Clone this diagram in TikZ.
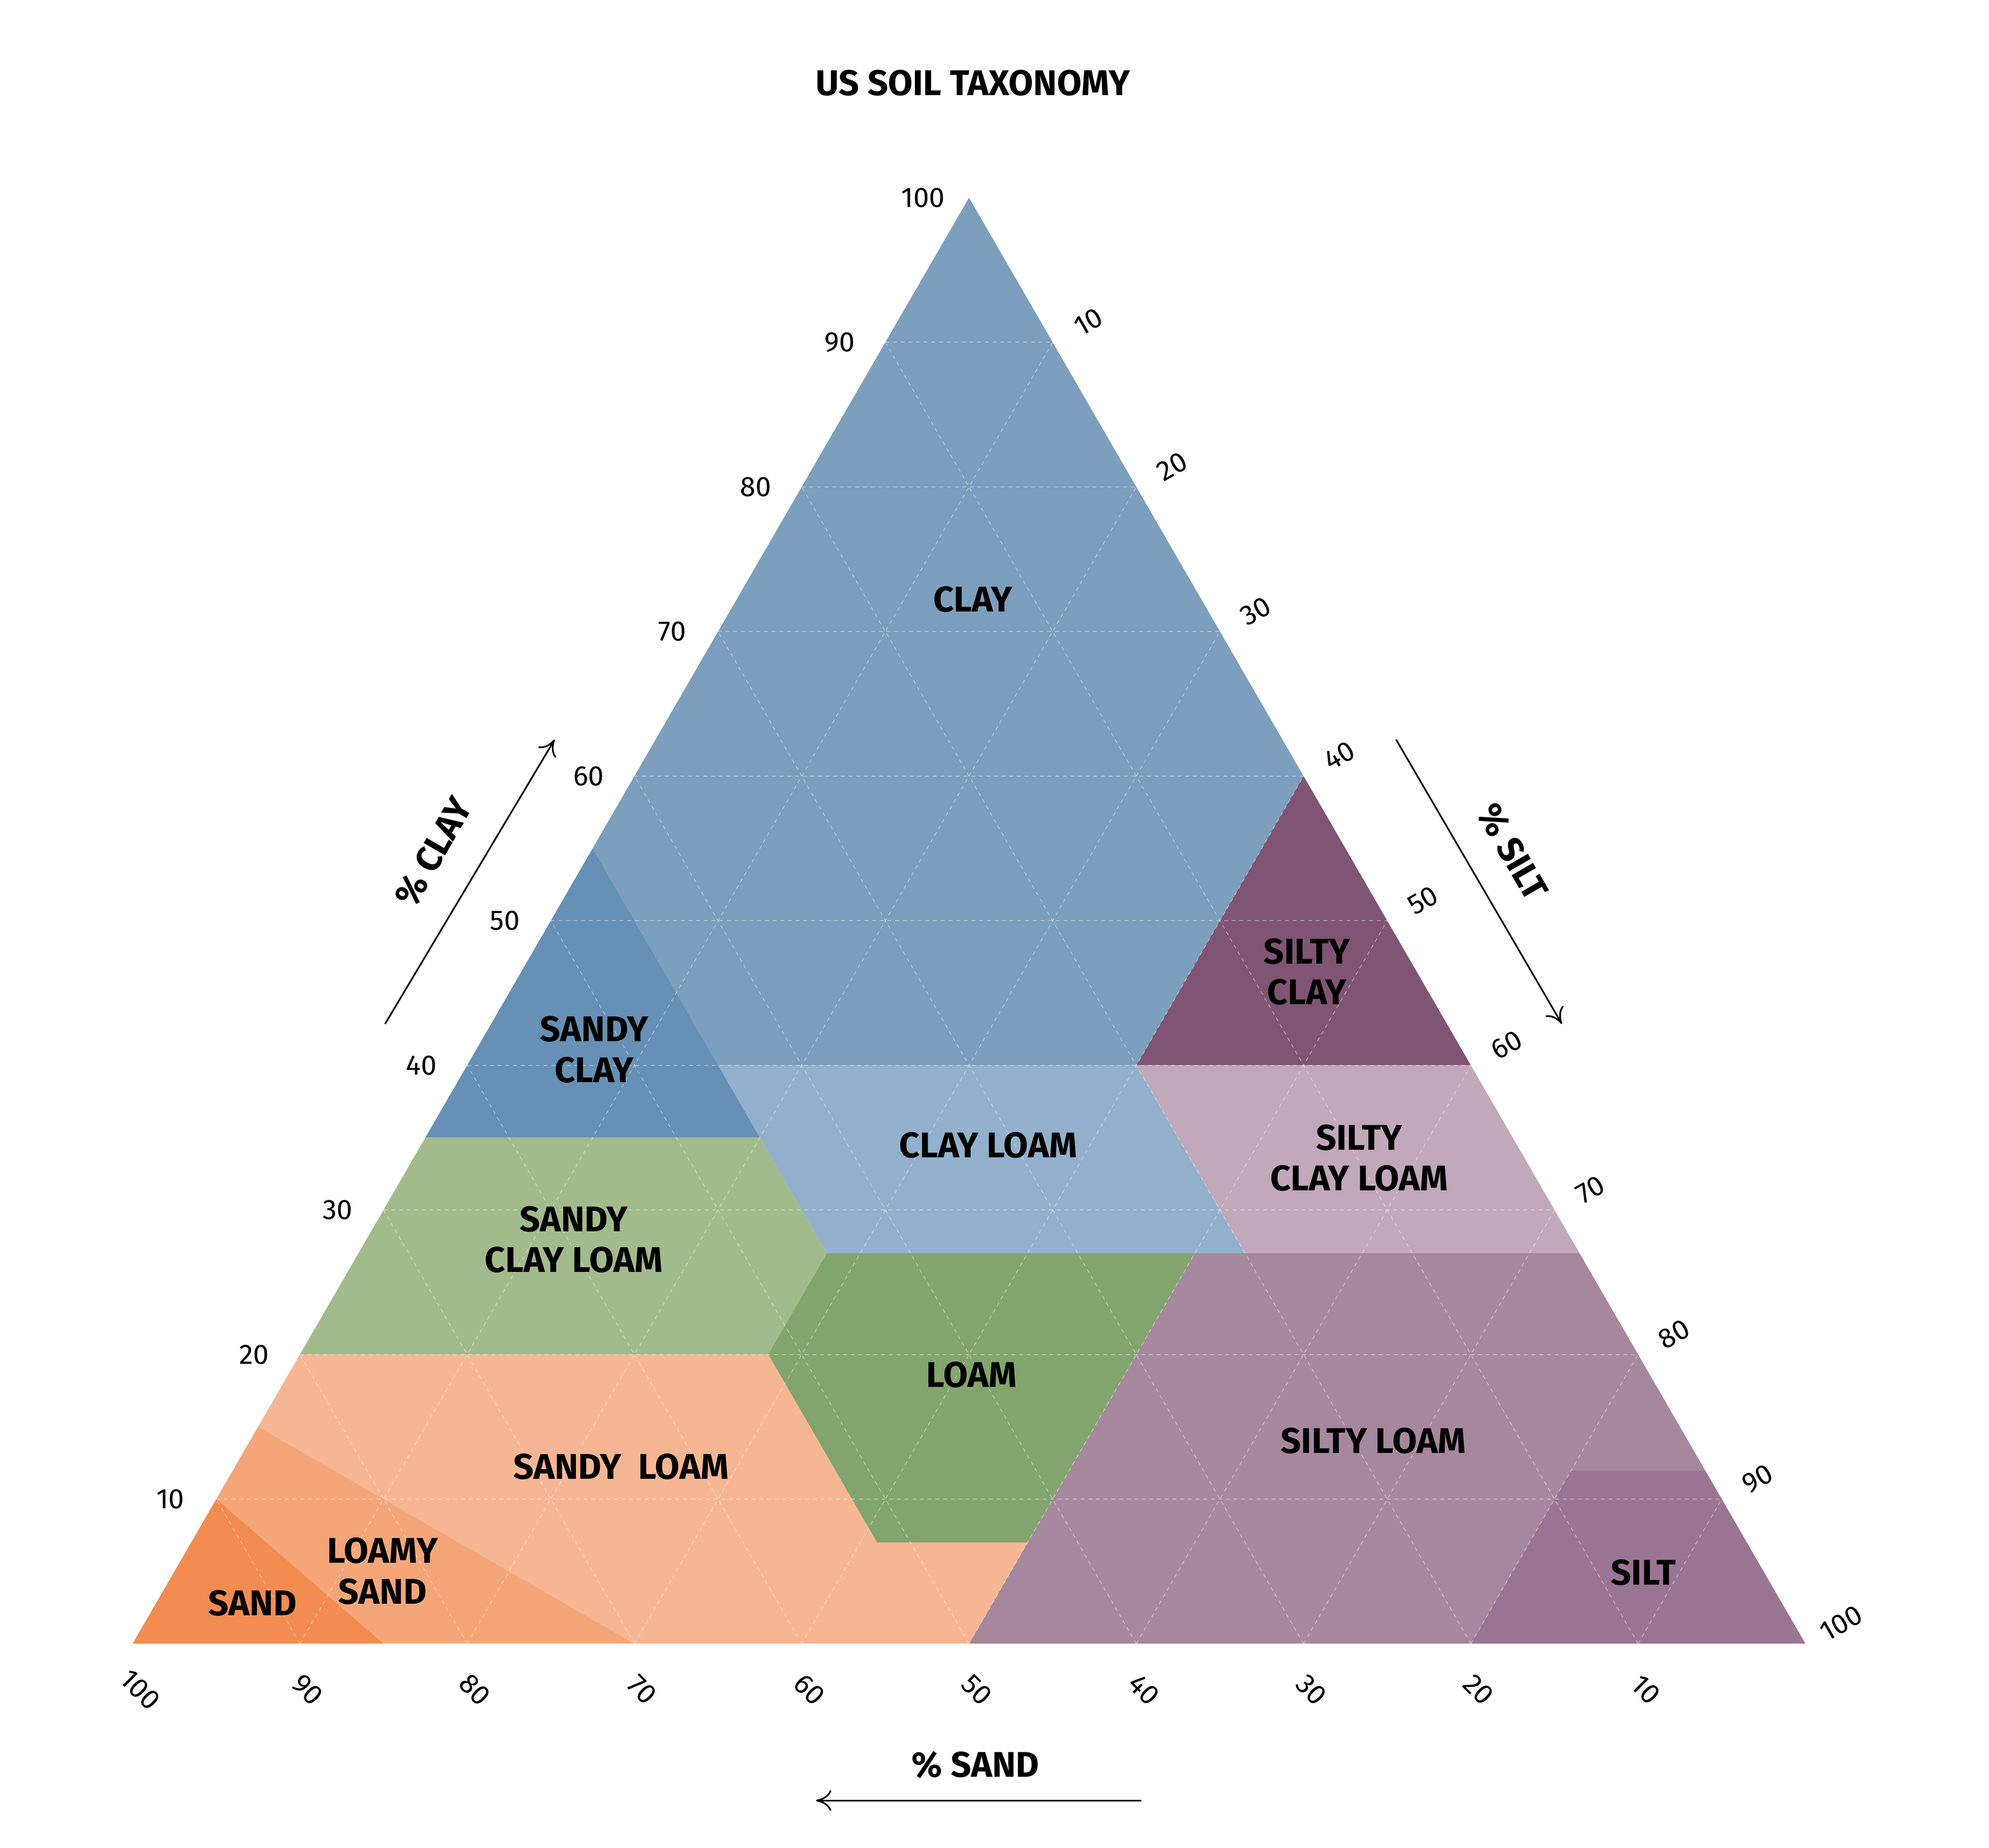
\documentclass[tikz,border=0pt]{standalone}
\usepackage{fontspec}
\setmainfont{Fira Sans}
\usetikzlibrary{arrows.meta}
\tikzset{tern/.cd, c/.store in=\tc, s/.store in=\ts}
\tikzdeclarecoordinatesystem{tern}{\tikzset{tern/.cd,#1}\pgfpointxy{104+(\ts+\tc/2)*13.12}{1289-\tc*11.34}}
\definecolor{cClay}{HTML}{7B9FBD}
\definecolor{cSClay}{HTML}{6690B5}
\definecolor{cCLoam}{HTML}{93B1CC}
\definecolor{cSiClay}{HTML}{7F5573}
\definecolor{cSiCLoam}{HTML}{C1A8BB}
\definecolor{cSCLoam}{HTML}{A2BB8C}
\definecolor{cLoam}{HTML}{82A56D}
\definecolor{cSiLoam}{HTML}{A6889E}
\definecolor{cSilt}{HTML}{9A7592}
\definecolor{cSLoam}{HTML}{F7B693}
\definecolor{cLSand}{HTML}{F4A678}
\definecolor{cSand}{HTML}{F28C50}
\tikzset{lbl/.style={font=\fontsize{28}{32}\selectfont\bfseries,align=center},
 tick/.style={font=\fontsize{22}{26}\selectfont},
 grid/.style={white,opacity=0.45,dashed,line width=0.6pt},
 ax/.style={-{To[length=12pt,width=16pt]},line width=1.3pt}}
\begin{document}
\begin{tikzpicture}[x=1pt,y=-1pt]
\useasboundingbox (0,0) rectangle (1560,1449);
\fill[cClay] (tern cs:c=100,s=0)--(tern cs:c=60,s=40)--(tern cs:c=40,s=40)--(tern cs:c=40,s=15)--(tern cs:c=55,s=0)--cycle;
\fill[cSClay] (tern cs:c=55,s=0)--(tern cs:c=40,s=15)--(tern cs:c=35,s=20)--(tern cs:c=35,s=0)--cycle;
\fill[cSiClay] (tern cs:c=60,s=40)--(tern cs:c=40,s=60)--(tern cs:c=40,s=40)--cycle;
\fill[cCLoam] (tern cs:c=40,s=15)--(tern cs:c=40,s=40)--(tern cs:c=27,s=53)--(tern cs:c=27,s=28)--cycle;
\fill[cSiCLoam] (tern cs:c=40,s=40)--(tern cs:c=40,s=60)--(tern cs:c=27,s=73)--(tern cs:c=27,s=53)--cycle;
\fill[cSCLoam] (tern cs:c=35,s=0)--(tern cs:c=35,s=20)--(tern cs:c=27,s=28)--(tern cs:c=20,s=28)--(tern cs:c=20,s=0)--cycle;
\fill[cLoam] (tern cs:c=27,s=28)--(tern cs:c=27,s=50)--(tern cs:c=7,s=50)--(tern cs:c=7,s=41)--(tern cs:c=20,s=28)--cycle;
\fill[cSiLoam] (tern cs:c=27,s=50)--(tern cs:c=27,s=73)--(tern cs:c=12,s=88)--(tern cs:c=12,s=80)--(tern cs:c=0,s=80)--(tern cs:c=0,s=50)--(tern cs:c=7,s=50)--cycle;
\fill[cSilt] (tern cs:c=12,s=80)--(tern cs:c=12,s=88)--(tern cs:c=0,s=100)--(tern cs:c=0,s=80)--cycle;
\fill[cSLoam] (tern cs:c=20,s=0)--(tern cs:c=20,s=28)--(tern cs:c=7,s=41)--(tern cs:c=7,s=50)--(tern cs:c=0,s=50)--(tern cs:c=0,s=30)--(tern cs:c=15,s=0)--cycle;
\fill[cLSand] (tern cs:c=15,s=0)--(tern cs:c=0,s=30)--(tern cs:c=0,s=15)--(tern cs:c=10,s=0)--cycle;
\fill[cSand] (tern cs:c=10,s=0)--(tern cs:c=0,s=15)--(tern cs:c=0,s=0)--cycle;
\foreach \k in {10,20,...,90}{
 \pgfmathtruncatemacro\m{100-\k}
 \draw[grid] (tern cs:c=\k,s=0)--(tern cs:c=\k,s=\m);
 \draw[grid] (tern cs:c=0,s=\k)--(tern cs:c=\m,s=\k);
 \draw[grid] (tern cs:c=0,s=\m)--(tern cs:c=\m,s=0);
}
\foreach \k in {10,20,...,100}{
 \pgfmathtruncatemacro\m{100-\k}
 \node[tick] (cl\k) at ([xshift=-36pt]tern cs:c=\k,s=0) {\k};
 \node[tick,rotate=30] (si\k) at ([xshift=28pt,yshift=16pt]tern cs:c=\m,s=\k) {\k};
 \node[tick,rotate=-45] (sa\k) at ([xshift=6pt,yshift=-36pt]tern cs:c=0,s=\m) {\k};
}
\node[lbl] (title) at (763,65) {US SOIL TAXONOMY};
\node[lbl] (nclay) at (763,470) {CLAY};
\node[lbl] (nsclay) at (466,823) {SANDY\\CLAY};
\node[lbl] (ncloam) at (775,898) {CLAY LOAM};
\node[lbl] (nsiclay) at (1025,762) {SILTY\\CLAY};
\node[lbl] (nsicloam) at (1066,908) {SILTY\\CLAY LOAM};
\node[lbl] (nscloam) at (450,972) {SANDY\\CLAY LOAM};
\node[lbl] (nloam) at (762,1078) {LOAM};
\node[lbl] (nsiloam) at (1077,1130) {SILTY LOAM};
\node[lbl] (nsilt) at (1289,1233) {SILT};
\node[lbl] (nsloam) at (487,1150) {SANDY\ \ LOAM};
\node[lbl] (nlsand) at (300,1232) {LOAMY\\SAND};
\node[lbl] (nsand) at (198,1257) {SAND};
\node[lbl,rotate=60] (tclay) at (340,668) {\% CLAY};
\node[lbl,rotate=-60] (tsilt) at (1186,668) {\% SILT};
\node[lbl] (tsand) at (765,1384) {\% SAND};
\coordinate (a1) at (302,803); \coordinate (a2) at (435,580);
\coordinate (b1) at (1095,580); \coordinate (b2) at (1225,803);
\coordinate (d1) at (895,1412); \coordinate (d2) at (640,1412);
\draw[ax] (a1)--(a2);
\draw[ax] (b1)--(b2);
\draw[ax] (d1)--(d2);
\end{tikzpicture}
\end{document}
